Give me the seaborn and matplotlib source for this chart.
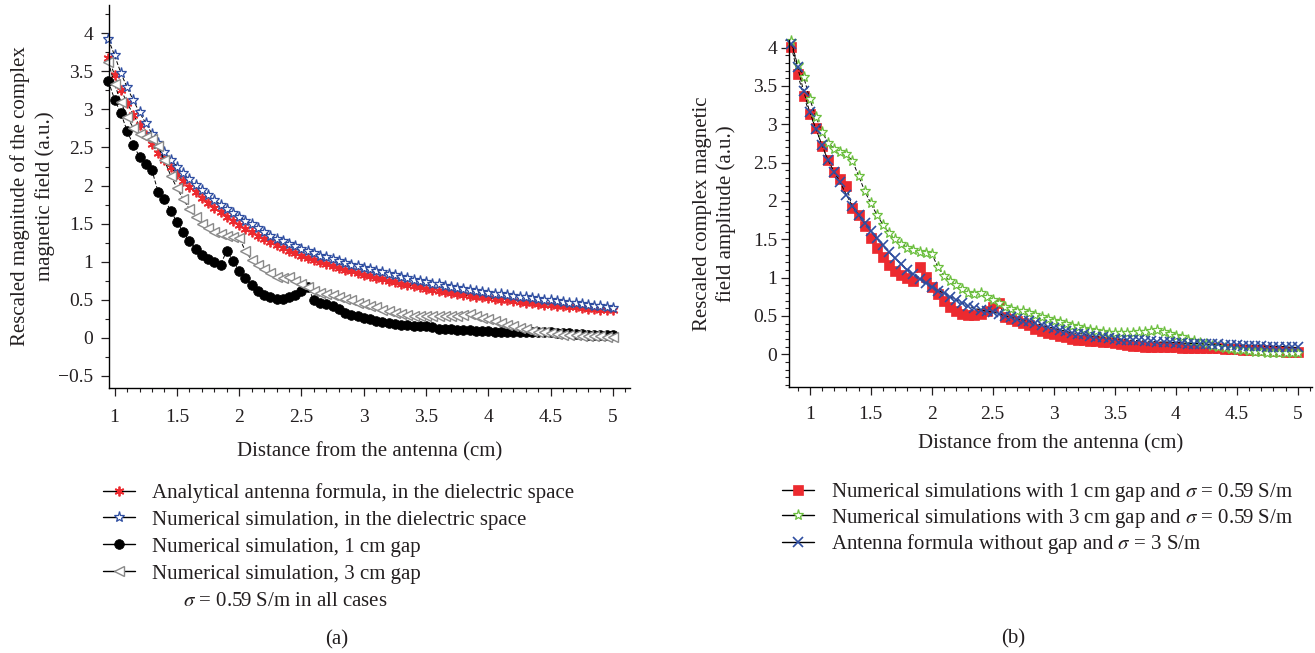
import numpy as np
import matplotlib
matplotlib.use("Agg")
import matplotlib.pyplot as plt
import seaborn as sns
from matplotlib.lines import Line2D
from matplotlib.ticker import MultipleLocator

# distance grid (cm), sampled every 0.05 cm
x_all = np.round(np.arange(0.85, 5.001, 0.05), 2)
x_left = x_all[2:]  # the left panel starts at 0.95 cm

# (a) analytical antenna formula, dielectric space
analytical_diel = [
    3.68, 3.45, 3.26, 3.09, 2.93, 2.79, 2.66, 2.54, 2.43, 2.33,
    2.24, 2.15, 2.06, 1.98, 1.91, 1.84, 1.77, 1.71, 1.65, 1.59,
    1.53, 1.48, 1.43, 1.39, 1.34, 1.30, 1.26, 1.22, 1.18, 1.14,
    1.11, 1.08, 1.05, 1.02, 0.99, 0.97, 0.94, 0.92, 0.89, 0.87,
    0.85, 0.83, 0.81, 0.79, 0.77, 0.75, 0.73, 0.71, 0.69, 0.68,
    0.66, 0.64, 0.63, 0.61, 0.60, 0.59, 0.57, 0.56, 0.55, 0.54,
    0.53, 0.52, 0.51, 0.50, 0.49, 0.48, 0.47, 0.46, 0.45, 0.44,
    0.43, 0.43, 0.42, 0.41, 0.40, 0.40, 0.39, 0.38, 0.38, 0.37,
    0.37, 0.36,
]
# (a) numerical simulation, dielectric space
numerical_diel = [
    3.92, 3.71, 3.48, 3.29, 3.12, 2.96, 2.82, 2.68, 2.56, 2.44,
    2.34, 2.25, 2.16, 2.08, 2.01, 1.94, 1.87, 1.81, 1.75, 1.69,
    1.64, 1.59, 1.54, 1.49, 1.44, 1.39, 1.34, 1.30, 1.27, 1.23,
    1.20, 1.17, 1.14, 1.11, 1.08, 1.06, 1.03, 1.01, 0.98, 0.96,
    0.94, 0.92, 0.90, 0.88, 0.86, 0.84, 0.82, 0.80, 0.78, 0.76,
    0.74, 0.73, 0.71, 0.70, 0.68, 0.67, 0.65, 0.64, 0.63, 0.61,
    0.60, 0.59, 0.58, 0.57, 0.56, 0.55, 0.54, 0.53, 0.52, 0.51,
    0.50, 0.49, 0.48, 0.47, 0.46, 0.45, 0.44, 0.43, 0.42, 0.41,
    0.40, 0.39,
]
# numerical simulation, 1 cm gap, sigma = 0.59 S/m (both panels)
gap_1cm = [
    4.01, 3.66, 3.37, 3.13, 2.95, 2.72, 2.53, 2.38, 2.28, 2.20,
    1.91, 1.82, 1.67, 1.52, 1.39, 1.27, 1.17, 1.09, 1.03, 0.99,
    0.96, 1.14, 1.01, 0.88, 0.78, 0.69, 0.62, 0.56, 0.53, 0.51,
    0.51, 0.53, 0.56, 0.61, 0.67, 0.49, 0.46, 0.44, 0.41, 0.38,
    0.33, 0.30, 0.28, 0.26, 0.24, 0.22, 0.20, 0.19, 0.18, 0.17,
    0.17, 0.16, 0.16, 0.15, 0.14, 0.12, 0.11, 0.11, 0.10, 0.10,
    0.10, 0.09, 0.09, 0.09, 0.08, 0.08, 0.08, 0.08, 0.08, 0.08,
    0.08, 0.07, 0.07, 0.07, 0.06, 0.06, 0.06, 0.05, 0.05, 0.04,
    0.04, 0.03, 0.03, 0.03,
]
# numerical simulation, 3 cm gap, sigma = 0.59 S/m (both panels)
gap_3cm = [
    4.08, 3.77, 3.62, 3.33, 3.10, 2.90, 2.76, 2.68, 2.64, 2.61,
    2.52, 2.33, 2.13, 1.97, 1.82, 1.69, 1.58, 1.50, 1.44, 1.39,
    1.36, 1.33, 1.32, 1.31, 1.14, 1.02, 0.96, 0.90, 0.85, 0.80,
    0.78, 0.80, 0.75, 0.71, 0.67, 0.62, 0.59, 0.57, 0.56, 0.54,
    0.51, 0.49, 0.46, 0.44, 0.42, 0.40, 0.37, 0.35, 0.33, 0.31,
    0.30, 0.29, 0.28, 0.28, 0.28, 0.28, 0.28, 0.29, 0.29, 0.30,
    0.31, 0.29, 0.26, 0.24, 0.22, 0.19, 0.17, 0.15, 0.13, 0.11,
    0.09, 0.08, 0.07, 0.06, 0.05, 0.04, 0.03, 0.03, 0.02, 0.02,
    0.02, 0.02, 0.01, 0.01,
]
# (b) antenna formula without gap, sigma = 3 S/m
formula_3Sm = [
    4.05, 3.75, 3.43, 3.16, 2.94, 2.73, 2.53, 2.38, 2.24, 2.08,
    1.93, 1.82, 1.71, 1.61, 1.51, 1.42, 1.33, 1.25, 1.18, 1.10,
    1.04, 0.98, 0.93, 0.88, 0.83, 0.80, 0.75, 0.71, 0.67, 0.63,
    0.60, 0.58, 0.56, 0.55, 0.53, 0.50, 0.48, 0.46, 0.44, 0.43,
    0.41, 0.38, 0.36, 0.34, 0.32, 0.30, 0.28, 0.27, 0.26, 0.24,
    0.23, 0.22, 0.21, 0.20, 0.19, 0.19, 0.18, 0.18, 0.17, 0.17,
    0.16, 0.16, 0.16, 0.15, 0.15, 0.14, 0.14, 0.14, 0.13, 0.13,
    0.13, 0.12, 0.12, 0.12, 0.11, 0.11, 0.11, 0.11, 0.10, 0.10,
    0.10, 0.10, 0.09, 0.09,
]

labels_a = [
    "Analytical antenna formula, in the dielectric space",
    "Numerical simulation, in the dielectric space",
    "Numerical simulation, 1 cm gap",
    "Numerical simulation, 3 cm gap",
]
labels_b = [
    r"Numerical simulations with 1 cm gap and $\sigma$ = 0.59 S/m",
    r"Numerical simulations with 3 cm gap and $\sigma$ = 0.59 S/m",
    r"Antenna formula without gap and $\sigma$ = 3 S/m",
]

sns.set_style("ticks")
txt = "#231f20"
plt.rcParams["font.family"] = ["Liberation Serif", "DejaVu Serif"]
plt.rcParams["mathtext.fontset"] = "stix"
plt.rcParams["text.color"] = txt
plt.rcParams["axes.labelcolor"] = txt
plt.rcParams["xtick.color"] = txt
plt.rcParams["ytick.color"] = txt

FS = 15      # labels / legend
FS_TICK = 14

fig = plt.figure(figsize=(13.15, 6.53), dpi=100)
ax1 = fig.add_axes([0.0829, 0.406, 0.396, 0.586])
ax2 = fig.add_axes([0.600, 0.407, 0.398, 0.532])

line_kw = dict(color="black", linestyle=(0, (4, 2)), linewidth=0.7,
               estimator=None, sort=False, clip_on=False, legend=False)

red = "#ec2a2f"
blue = "#2f4ea1"
green = "#6cbf3f"
grey = "#8a8a8a"

# marker styles per series
st_anal = dict(marker=(6, 2, 0), markersize=7, markeredgecolor=red,
               markerfacecolor=red, markeredgewidth=1.3)
st_diel = dict(marker="*", markersize=8, markeredgecolor=blue,
               markerfacecolor="white", markeredgewidth=0.9)
st_gap1_a = dict(marker="o", markersize=7, markeredgecolor="black",
                 markerfacecolor="black", markeredgewidth=0.5)
st_gap3_a = dict(marker="<", markersize=7.5, markeredgecolor=grey,
                 markerfacecolor="white", markeredgewidth=1.0)
st_gap1_b = dict(marker="s", markersize=7, markeredgecolor=red,
                 markerfacecolor=red, markeredgewidth=0.5)
st_gap3_b = dict(marker="*", markersize=8, markeredgecolor=green,
                 markerfacecolor="white", markeredgewidth=0.9)
st_form_b = dict(marker="x", markersize=7, markeredgecolor=blue,
                 markerfacecolor=blue, markeredgewidth=1.2)

# ---- panel (a)
sns.lineplot(x=x_left, y=analytical_diel, ax=ax1, **st_anal, **line_kw)
sns.lineplot(x=x_left, y=numerical_diel, ax=ax1, **st_diel, **line_kw)
sns.lineplot(x=x_left, y=gap_1cm[2:], ax=ax1, **st_gap1_a, **line_kw)
sns.lineplot(x=x_left, y=gap_3cm[2:], ax=ax1, **st_gap3_a, **line_kw)

# ---- panel (b)
sns.lineplot(x=x_all, y=gap_1cm, ax=ax2, **st_gap1_b, **line_kw)
sns.lineplot(x=x_all, y=gap_3cm, ax=ax2, **st_gap3_b, **line_kw)
sns.lineplot(x=x_all, y=formula_3Sm, ax=ax2, **st_form_b, **line_kw)

ax1.set_xlim(0.955, 5.135)
ax1.set_ylim(-0.66, 4.37)
ax1.xaxis.set_major_locator(MultipleLocator(0.5))
ax1.xaxis.set_minor_locator(MultipleLocator(0.1))
ax1.yaxis.set_major_locator(MultipleLocator(0.5))
ax1.yaxis.set_minor_locator(MultipleLocator(0.25))
ax1.set_xlabel("Distance from the antenna (cm)", labelpad=11, fontsize=FS)
ax1.set_ylabel("Rescaled magnitude of the complex\nmagnetic field (a.u.)",
               labelpad=2, linespacing=1.35, fontsize=FS)

ax2.set_xlim(0.83, 5.12)
ax2.set_ylim(-0.43, 4.1)
ax2.set_xticks([1, 1.5, 2, 2.5, 3, 3.5, 4, 4.5, 5])
ax2.xaxis.set_minor_locator(MultipleLocator(0.1))
ax2.set_yticks([0, 0.5, 1, 1.5, 2, 2.5, 3, 3.5, 4])
ax2.yaxis.set_minor_locator(MultipleLocator(0.1))
ax2.set_xlabel("Distance from the antenna (cm)", labelpad=8, fontsize=FS)
ax2.set_ylabel("Rescaled complex magnetic\nfield amplitude (a.u.)",
               labelpad=12, linespacing=1.3, fontsize=FS)


def fmt(v, _):
    return ("%g" % v).replace("-", "\u2212")


for ax in (ax1, ax2):
    sns.despine(ax=ax)
    ax.xaxis.set_major_formatter(fmt)
    ax.yaxis.set_major_formatter(fmt)
    ax.tick_params(which="major", direction="out", length=5.5, width=0.9,
                   labelsize=FS_TICK)
    ax.tick_params(which="minor", direction="out", length=3, width=0.8)
    for sp in ("left", "bottom"):
        ax.spines[sp].set_linewidth(1.0)
        ax.spines[sp].set_color("black")
ax1.tick_params(axis="y", which="major", pad=6)
ax1.tick_params(axis="x", which="major", pad=10)
ax2.tick_params(axis="y", which="major", pad=3)
ax2.tick_params(axis="x", which="major", pad=8)


def proxy(st):
    return Line2D([], [], color="black", linewidth=1.0, **st)


leg_kw = dict(loc="upper left", frameon=False, borderpad=0, borderaxespad=0,
              handlelength=1.55, handletextpad=0.8, fontsize=FS)
fig.legend([proxy(s) for s in (st_anal, st_diel, st_gap1_a, st_gap3_a)], labels_a,
           bbox_to_anchor=(103 / 1315, 1 - 483 / 653), labelspacing=0.35, **leg_kw)
fig.legend([proxy(s) for s in (st_gap1_b, st_gap3_b, st_form_b)], labels_b,
           bbox_to_anchor=(782 / 1315, 1 - 481 / 653), labelspacing=0.13, **leg_kw)

fig.text(183 / 1315, 1 - 602 / 653, r"$\sigma$ = 0.59 S/m in all cases",
         ha="left", va="center", fontsize=FS)
fig.text(337 / 1315, 1 - 640 / 653, "(a)", ha="center", va="center", fontsize=FS)
fig.text(1013 / 1315, 1 - 639 / 653, "(b)", ha="center", va="center", fontsize=FS)

fig.savefig("out.png", dpi=100)
